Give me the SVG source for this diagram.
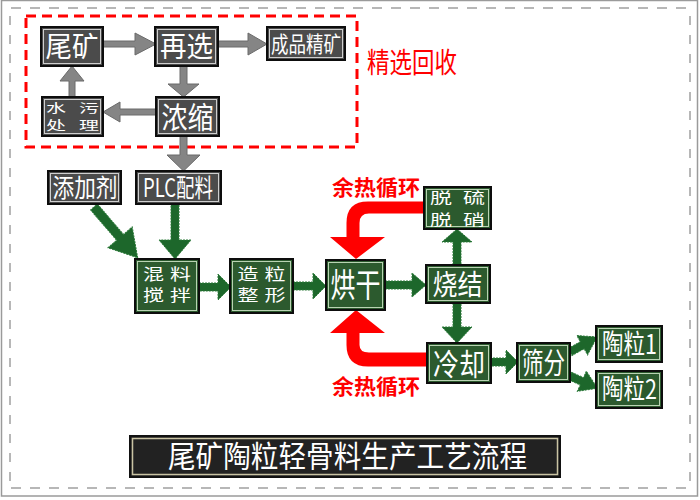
<svg xmlns="http://www.w3.org/2000/svg" width="700" height="500" viewBox="0 0 700 500">
<style>
.t{fill:#fff;font-family:"Noto Sans CJK SC","Noto Sans",sans-serif;text-anchor:middle}
.gbox{fill:#4b4b4b;stroke:#0d0d0d;stroke-width:2}
.gin{fill:none;stroke:#cfcfcf;stroke-width:1}
.nbox{fill:#2c5a2e;stroke:#0d0d0d;stroke-width:2}
.nin{fill:none;stroke:#b9d3b3;stroke-width:1}
.ga{fill:#858585;stroke:#6a6a6a;stroke-width:1}
.na{fill:#1d672b;stroke:#2a7a38;stroke-width:1;stroke-dasharray:2 1}
.ra{fill:#ff0000}
.rl{fill:#ff0000;font-family:"Noto Sans CJK SC","Noto Sans",sans-serif;font-weight:bold;text-anchor:middle}
.rt{fill:#ff0000;font-family:"Noto Sans CJK SC","Noto Sans",sans-serif;font-weight:normal;text-anchor:middle}
.deco{stroke:#a0a0a0;stroke-width:1.5;fill:none}
</style>
<rect x="0" y="0" width="700" height="500" fill="#fff"/>
<rect x="1.5" y="0.5" width="696" height="495.5" fill="none" stroke="#9a9a9a" stroke-width="1.5"/>
<g id="border-deco">
<line class="deco" x1="11" y1="8" x2="690" y2="8" stroke-dasharray="10 9"/>
<line class="deco" x1="11" y1="488" x2="690" y2="488" stroke-dasharray="10 9"/>
<line class="deco" x1="10" y1="16" x2="10" y2="484" stroke-dasharray="9 10"/>
<line class="deco" x1="690" y1="16" x2="690" y2="484" stroke-dasharray="9 10"/>
</g>
<rect id="recovery-frame" x="26" y="16" width="331" height="131" fill="none" stroke="#ff0000" stroke-width="3" stroke-dasharray="10 6"/>
<text class="rt" x="412" y="73" font-size="28" textLength="90" lengthAdjust="spacingAndGlyphs">精选回收</text>
<g id="connectors">
<polygon class="ga" points="103,41 135,41 135,33 156,44 135,55 135,47 103,47"/>
<polygon class="ga" points="218,41 248,41 248,33 267,44 248,55 248,47 218,47"/>
<polygon class="ga" points="180,66 187,66 187,84 199,84 183.5,97 168,84 180,84"/>
<polygon class="ga" points="156,109 120,109 120,102 103,112 120,122 120,115 156,115"/>
<polygon class="ga" points="69,97 69,81 60,81 72,66 84,81 75,81 75,97"/>
<polygon class="ga" points="180,136 187,136 187,155 200,155 183.5,171 167,155 180,155"/>
<polygon class="na" points="171,204 179,204 179,240 191,240 175,259 159,240 171,240"/>
<g transform="translate(94,207) rotate(49.3)"><polygon class="na" points="0,-4.5 40,-4.5 40,-16 67,0 40,16 40,4.5 0,4.5"/></g>
<polygon class="na" points="199,283 218,283 218,274 231,287 218,300 218,291 199,291"/>
<polygon class="na" points="293,282 313,282 313,273 326,286 313,299 313,290 293,290"/>
<polygon class="na" points="385,281 412,281 412,273 426,285 412,297 412,289 385,289"/>
<polygon class="na" points="453,265 453,242 442,242 457,229 472,242 461,242 461,265"/>
<polygon class="na" points="453,303 461,303 461,327 472,327 457,343 442,327 453,327"/>
<polygon class="na" points="490,358 506,358 506,350 518,362 506,374 506,366 490,366"/>
<g transform="translate(570,352) rotate(-29)"><polygon class="na" points="0,-4 14,-4 14,-11 31,0 14,11 14,4 0,4"/></g>
<g transform="translate(570,376) rotate(24)"><polygon class="na" points="0,-4 13,-4 13,-11 30,0 13,11 13,4 0,4"/></g>
<path class="ra" d="M424,201.5 H368 Q346.5,201.5 346.5,223 V237 H330 L356,259 L385,237 H359.5 V223 Q359.5,213.5 369,213.5 H424 Z"/>
<path class="ra" d="M427,366.5 H368 Q346.5,366.5 346.5,345 V333 H330 L356,310 L385,333 H359.5 V345 Q359.5,352.5 369,352.5 H427 Z"/>
</g>
<text class="rl" x="376" y="195" font-size="21" textLength="88" lengthAdjust="spacingAndGlyphs">余热循环</text>
<text class="rl" x="376" y="394" font-size="21" textLength="88" lengthAdjust="spacingAndGlyphs">余热循环</text>
<g id="n-weikuang"><rect class="gbox" x="41" y="27" width="62" height="39"/><rect class="gin" x="43.5" y="29.5" width="57" height="34"/><text class="t" x="72" y="57" font-size="28" textLength="53" lengthAdjust="spacingAndGlyphs">尾矿</text></g>
<g id="n-zaixuan"><rect class="gbox" x="155" y="27" width="63" height="39"/><rect class="gin" x="157.5" y="29.5" width="58" height="34"/><text class="t" x="186.5" y="57" font-size="28" textLength="53" lengthAdjust="spacingAndGlyphs">再选</text></g>
<g id="n-chengpin"><rect class="gbox" x="267" y="27" width="78" height="33"/><rect class="gin" x="269.5" y="29.5" width="73" height="28"/><text class="t" x="306" y="52" font-size="22" textLength="70" lengthAdjust="spacingAndGlyphs">成品精矿</text></g>
<g id="n-shuiwu"><rect class="gbox" x="42" y="97" width="61" height="39"/><rect class="gin" x="44.5" y="99.5" width="56" height="34"/><text class="t" font-size="20" letter-spacing="13" transform="translate(79,0) scale(1,0.62)"><tspan x="0" y="182.3">水污</tspan><tspan x="0" y="209">处理</tspan></text></g>
<g id="n-nongsuo"><rect class="gbox" x="156" y="97" width="63" height="39"/><rect class="gin" x="158.5" y="99.5" width="58" height="34"/><text class="t" x="187.5" y="128" font-size="30" textLength="52" lengthAdjust="spacingAndGlyphs">浓缩</text></g>
<g id="n-tianjiaji"><rect class="gbox" x="48" y="171" width="73" height="33"/><rect class="gin" x="50.5" y="173.5" width="68" height="28"/><text class="t" x="85" y="197" font-size="25" textLength="65" lengthAdjust="spacingAndGlyphs">添加剂</text></g>
<g id="n-plc"><rect class="gbox" x="136" y="171" width="85" height="33"/><rect class="gin" x="138.5" y="173.5" width="80" height="28"/><text class="t" x="178" y="197" font-size="25" textLength="70" lengthAdjust="spacingAndGlyphs">PLC配料</text></g>
<g id="n-hunliao"><rect class="nbox" x="135" y="259" width="64" height="54"/><rect class="nin" x="137.5" y="261.5" width="59" height="49"/><text class="t" font-size="21" letter-spacing="6" transform="translate(170,0) scale(1,0.75)"><tspan x="0" y="372.7">混料</tspan><tspan x="0" y="401.3">搅拌</tspan></text></g>
<g id="n-zaoli"><rect class="nbox" x="230" y="259" width="63" height="54"/><rect class="nin" x="232.5" y="261.5" width="58" height="49"/><text class="t" font-size="21" letter-spacing="6" transform="translate(264.5,0) scale(1,0.75)"><tspan x="0" y="372.7">造粒</tspan><tspan x="0" y="401.3">整形</tspan></text></g>
<g id="n-honggan"><rect class="nbox" x="326" y="260" width="59" height="50"/><rect class="nin" x="328.5" y="262.5" width="54" height="45"/><text class="t" x="355.5" y="297" font-size="33" textLength="50" lengthAdjust="spacingAndGlyphs">烘干</text></g>
<g id="n-tuoliu"><rect class="nbox" x="424" y="187" width="67" height="42"/><rect class="nin" x="426.5" y="189.5" width="62" height="37"/><text class="t" font-size="22" letter-spacing="11" transform="translate(463,0) scale(1,0.68)"><tspan x="0" y="298.8">脱硫</tspan><tspan x="0" y="331.2">脱硝</tspan></text></g>
<g id="n-shaojie"><rect class="nbox" x="426" y="265" width="64" height="38"/><rect class="nin" x="428.5" y="267.5" width="59" height="33"/><text class="t" x="457.5" y="295" font-size="28" textLength="50" lengthAdjust="spacingAndGlyphs">烧结</text></g>
<g id="n-lengque"><rect class="nbox" x="427" y="343" width="64" height="40"/><rect class="nin" x="429.5" y="345.5" width="59" height="35"/><text class="t" x="459" y="375" font-size="30" textLength="52" lengthAdjust="spacingAndGlyphs">冷却</text></g>
<g id="n-shaifen"><rect class="nbox" x="517" y="343" width="53" height="39"/><rect class="nin" x="519.5" y="345.5" width="48" height="34"/><text class="t" x="543.5" y="374" font-size="29" textLength="43" lengthAdjust="spacingAndGlyphs">筛分</text></g>
<g id="n-taoli1"><rect class="nbox" x="596" y="326" width="66" height="36"/><rect class="nin" x="598.5" y="328.5" width="61" height="31"/><text class="t" x="629.5" y="354" font-size="27" textLength="55" lengthAdjust="spacingAndGlyphs">陶粒1</text></g>
<g id="n-taoli2"><rect class="nbox" x="596" y="371" width="66" height="37"/><rect class="nin" x="598.5" y="373.5" width="61" height="32"/><text class="t" x="629.5" y="399" font-size="27" textLength="55" lengthAdjust="spacingAndGlyphs">陶粒2</text></g>
<g id="title"><rect x="130" y="436" width="430" height="41" fill="#222" stroke="#111" stroke-width="2"/><rect x="132.5" y="438.5" width="425" height="36" fill="none" stroke="#c9c3a3" stroke-width="1.5"/><text class="t" x="347.5" y="467" font-size="30" textLength="359" lengthAdjust="spacingAndGlyphs">尾矿陶粒轻骨料生产工艺流程</text></g>
</svg>
